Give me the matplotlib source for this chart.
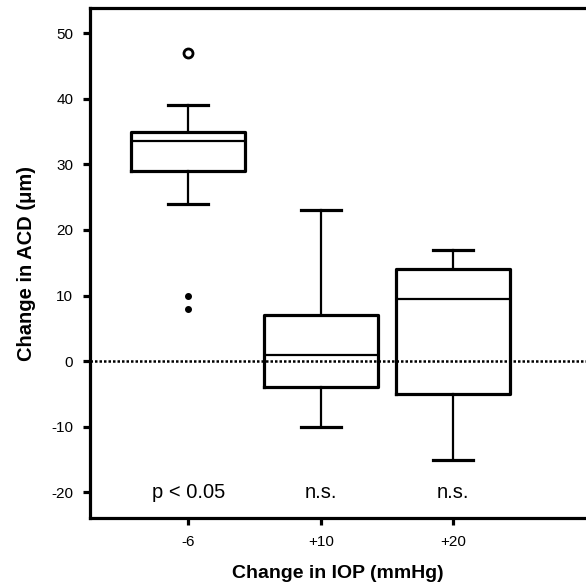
import matplotlib
matplotlib.use("Agg")
from matplotlib import pyplot as plt

plt.rcParams['font.family'] = ['Liberation Sans', 'DejaVu Sans']
plt.rcParams['axes.unicode_minus'] = False

groups = ["-6", "+10", "+20"]
medians = [33.5, 1, 9.5]
q1 = [29, -4, -5]
q3 = [35, 7, 14]
whis_lo = [24, -10, -15]
whis_hi = [39, 23, 17]
open_outliers = [[47], [], []]
filled_outliers = [[10, 8], [], []]
p_labels = ["p < 0.05", "n.s.", "n.s."]

positions = [1, 2, 3]

fig = plt.figure(figsize=(5.86, 5.88), dpi=100)
ax = fig.add_axes([0.1536, 0.119, 0.8464, 0.867])

stats = []
for i in range(len(groups)):
    stats.append({
        "med": medians[i], "q1": q1[i], "q3": q3[i],
        "whislo": whis_lo[i], "whishi": whis_hi[i], "fliers": [],
    })

ax.bxp(stats, positions=positions, widths=0.86, capwidths=0.3,
       showfliers=False,
       boxprops=dict(color="black", linewidth=2.3),
       whiskerprops=dict(color="black", linewidth=1.6),
       capprops=dict(color="black", linewidth=2.3),
       medianprops=dict(color="black", linewidth=1.6))

for i, pos in enumerate(positions):
    for v in open_outliers[i]:
        ax.plot(pos, v, marker="o", markersize=6.5, markerfacecolor="white",
                markeredgecolor="black", markeredgewidth=2, zorder=3)
    for v in filled_outliers[i]:
        ax.plot(pos, v, marker="o", markersize=4, color="black", zorder=3)
    ax.text(pos, -20, p_labels[i], ha="center", va="center", fontsize=14.5)

ax.axhline(0, color="black", linestyle=(0, (1, 0.8)), linewidth=1.8, zorder=1)

ax.set_xlim(0.26, 4.0)
ax.set_ylim(-23.9, 53.8)
ax.set_yticks(range(-20, 51, 10))
ax.set_xticks(positions)
ax.set_xticklabels(groups)

for s in ["left", "bottom", "top"]:
    ax.spines[s].set_linewidth(2.3)
ax.spines["right"].set_visible(False)
ax.tick_params(axis="both", direction="out", length=5, width=2.3, labelsize=11, pad=7)

ax.set_xlabel("Change in IOP (mmHg)", fontsize=14, fontweight="bold", labelpad=12)
ax.set_ylabel("Change in ACD (\u03bcm)", fontsize=14.5, fontweight="bold", labelpad=11)

fig.savefig("out.png", dpi=100)
